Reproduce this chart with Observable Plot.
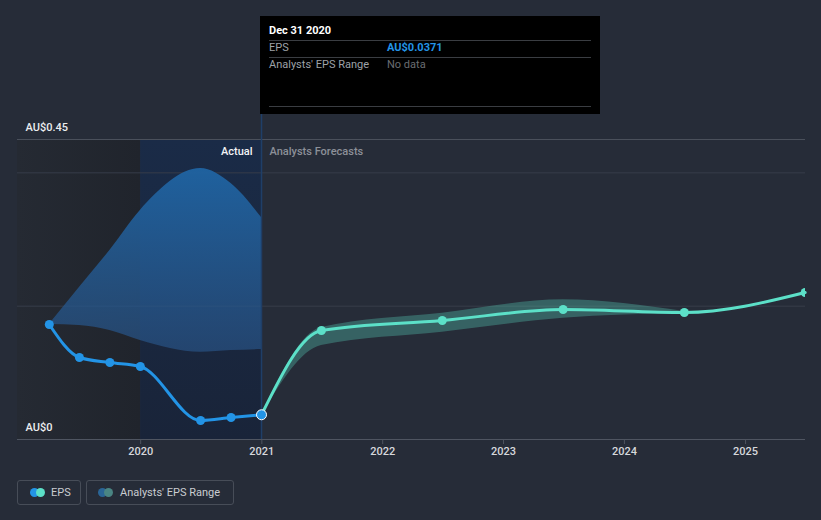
<!DOCTYPE html>
<html>
<head>
<meta charset="utf-8">
<script src="https://cdn.jsdelivr.net/npm/d3@7"></script>
<script src="https://cdn.jsdelivr.net/npm/@observablehq/plot@0.6"></script>
<style>
  html, body { margin: 0; padding: 0; background: #262c38; }
  #wrap { position: relative; width: 821px; height: 520px; background: #262c38; font-family: Roboto, "Open Sans", sans-serif; overflow: hidden; }
  #chart { position: absolute; left: 0; top: 0; }
  .tip { position: absolute; left: 260px; top: 16px; width: 340px; height: 98px; background: #000; color: #fff; font-size: 11px; }
  .tip .hd { position: absolute; left: 9px; top: 8px; font-weight: bold; font-size: 11px; color: #fff; }
  .tip .sep { position: absolute; left: 9px; right: 9px; height: 1px; background: #3a3d42; }
  .tip .lab { position: absolute; left: 9px; color: #9ea2a8; }
  .tip .val { position: absolute; left: 127px; }
  .legend { position: absolute; top: 480px; height: 25px; border: 1px solid #474d58; border-radius: 3px; box-sizing: border-box; color: #c9ccd1; font-size: 11px; line-height: 23px; }
  .legend .c { position: absolute; top: 7px; width: 9px; height: 9px; border-radius: 50%; }
</style>
</head>
<body>
<div id="wrap">
  <div id="chart"></div>
  <div class="tip">
    <div class="hd" id="tipDate"></div>
    <div class="sep" style="top:24px"></div>
    <div class="lab" style="top:25px">EPS</div>
    <div class="val" id="tipVal" style="top:25px;color:#2394e6;font-weight:bold"></div>
    <div class="sep" style="top:41px"></div>
    <div class="lab" style="top:42px">Analysts' EPS Range</div>
    <div class="val" style="top:42px;color:#6a6d72">No data</div>
    <div class="sep" style="top:90px"></div>
  </div>
  <div class="legend" style="left:17px;width:64px">
    <span class="c" style="left:12px;background:#2394e6"></span>
    <span class="c" style="left:18px;background:#5ce0c8"></span>
    <span style="position:absolute;left:33px">EPS</span>
  </div>
  <div class="legend" style="left:86px;width:148px">
    <span class="c" style="left:11px;background:#2a6596"></span>
    <span class="c" style="left:17px;background:#4a8583"></span>
    <span style="position:absolute;left:33px">Analysts' EPS Range</span>
  </div>
</div>
<script>
// ---- data ----
const actualDates = ["2019-03-31","2019-06-30","2019-09-30","2019-12-31","2020-06-30","2020-09-30","2020-12-31"];
const actualEps   = [0.1725, 0.123, 0.1155, 0.1095, 0.0285, 0.033, 0.0371];
const pastRangeHigh = [0.1725, 0.228, 0.2835, 0.3435, 0.4065, 0.384, 0.333];
const pastRangeLow  = [0.1725, 0.171, 0.1635, 0.1485, 0.131, 0.1335, 0.135];

const forecastDates = ["2020-12-31","2021-06-30","2022-06-30","2023-06-30","2024-06-30","2025-06-30"];
const forecastEps   = [0.0371, 0.1635, 0.1785, 0.195, 0.1905, 0.2205];
const rangeDates = ["2020-12-31","2021-06-30","2022-06-30","2023-06-30","2024-06-30"];
const rangeHigh  = [0.0371, 0.168, 0.1895, 0.2095, 0.192];
const rangeLow   = [0.0371, 0.141, 0.161, 0.182, 0.189];

const xTickYears = [2020, 2021, 2022, 2023, 2024, 2025];
const yTickLabels = [0, 0.45];
const gridValues = [0.2, 0.4, 0.45];
const xDomain = ["2018-12-25", "2025-07-01"];
const actualStart = "2020-01-01";
const todayDate = "2020-12-31";
const tipDate = "Dec 31 2020";
const tipValue = "AU$0.0371";

const P = d => new Date(d + "T00:00:00Z");
const actual = actualDates.map((d, i) => ({date: P(d), eps: actualEps[i], lo: pastRangeLow[i], hi: pastRangeHigh[i]}));
const forecast = forecastDates.map((d, i) => ({date: P(d), eps: forecastEps[i]}));
const band = rangeDates.map((d, i) => ({date: P(d), lo: rangeLow[i], hi: rangeHigh[i]}));
const xTicks = xTickYears.map(y => new Date(Date.UTC(y, 0, 1)));

document.getElementById("tipDate").textContent = tipDate;
document.getElementById("tipVal").textContent = tipValue;

const x0 = P(xDomain[0]), x1 = P(xDomain[1]), xa = P(actualStart), xt = P(todayDate);

const svg = Plot.plot({
  width: 821,
  height: 460,
  marginLeft: 17,
  marginRight: 16,
  marginTop: 139,
  marginBottom: 21,
  style: {background: "transparent", fontFamily: "Roboto, sans-serif", fontSize: "11px", overflow: "visible"},
  x: {type: "utc", domain: [x0, x1]},
  y: {domain: [0, 0.45], axis: null},
  marks: [
    Plot.rect([{a: x0, b: xa}], {x1: "a", x2: "b", y1: () => 0, y2: () => 0.45, fill: "url(#gLeft)"}),
    Plot.rect([{a: xa, b: xt}], {x1: "a", x2: "b", y1: () => 0, y2: () => 0.45, fill: "url(#gCol)"}),
    Plot.ruleY(gridValues, {stroke: d => d === 0.45 ? "#4a505b" : "#373d49", strokeWidth: 1}),
    Plot.areaY(actual, {x: "date", y1: "lo", y2: "hi", curve: "monotone-x", fill: "url(#gPast)"}),
    Plot.areaY(band, {x: "date", y1: "lo", y2: "hi", curve: "monotone-x", fill: "#5ce0c8", fillOpacity: 0.3}),
    Plot.ruleX([xt], {y1: () => 0, y2: () => 0.4875, stroke: "#1f3f68", strokeWidth: 1.5}),
    Plot.ruleY([0], {stroke: "#4f5561", strokeWidth: 1}),
    Plot.axisX({ticks: xTicks, tickFormat: "%Y", tickSize: 5, tickPadding: 3, stroke: "#4f5561", fill: "#d6d8dc", fontSize: 11, fontWeight: 500}),
    Plot.line(forecast, {x: "date", y: "eps", curve: "monotone-x", stroke: "#5ce0c8", strokeWidth: 3}),
    Plot.dot(forecast.slice(1), {x: "date", y: "eps", r: 4.5, fill: "#5ce0c8", clip: true}),
    Plot.line(actual, {x: "date", y: "eps", curve: "monotone-x", stroke: "#2394e6", strokeWidth: 3}),
    Plot.dot(actual.slice(0, -1), {x: "date", y: "eps", r: 4.5, fill: "#2394e6"}),
    Plot.dot(actual.slice(-1), {x: "date", y: "eps", r: 5, fill: "#2394e6", stroke: "#ffffff", strokeWidth: 1}),
    Plot.text(yTickLabels, {y: d => d, text: d => "AU$" + d, frameAnchor: "left", dx: 8, dy: -12, textAnchor: "start", fill: "#eceef0", fontSize: 11, fontWeight: 500}),
    Plot.text(["Actual"], {x: () => xt, y: () => 0.45, text: d => d, dx: -9, dy: 12, textAnchor: "end", fill: "#f2f3f5", fontSize: 11, fontWeight: 500}),
    Plot.text(["Analysts Forecasts"], {x: () => xt, y: () => 0.45, text: d => d, dx: 8, dy: 12, textAnchor: "start", fill: "#8c9098", fontSize: 11, fontWeight: 500})
  ]
});

const sel = d3.select(svg);
const defs = sel.insert("defs", ":first-child");
const gl = defs.append("linearGradient").attr("id", "gLeft").attr("x1", 0).attr("x2", 1).attr("y1", 0).attr("y2", 0);
gl.append("stop").attr("offset", "0%").attr("stop-color", "#252a33");
gl.append("stop").attr("offset", "100%").attr("stop-color", "#20242c");
const gc = defs.append("linearGradient").attr("id", "gCol").attr("x1", 0).attr("x2", 0).attr("y1", 0).attr("y2", 1);
gc.append("stop").attr("offset", "0%").attr("stop-color", "#1a2b47");
gc.append("stop").attr("offset", "100%").attr("stop-color", "#192439");
const gp = defs.append("linearGradient").attr("id", "gPast").attr("x1", 0).attr("x2", 0).attr("y1", 0).attr("y2", 1);
gp.append("stop").attr("offset", "0%").attr("stop-color", "#1f64a3").attr("stop-opacity", 0.95);
gp.append("stop").attr("offset", "100%").attr("stop-color", "#285284").attr("stop-opacity", 0.7);

document.getElementById("chart").appendChild(svg);
</script>
</body>
</html>
